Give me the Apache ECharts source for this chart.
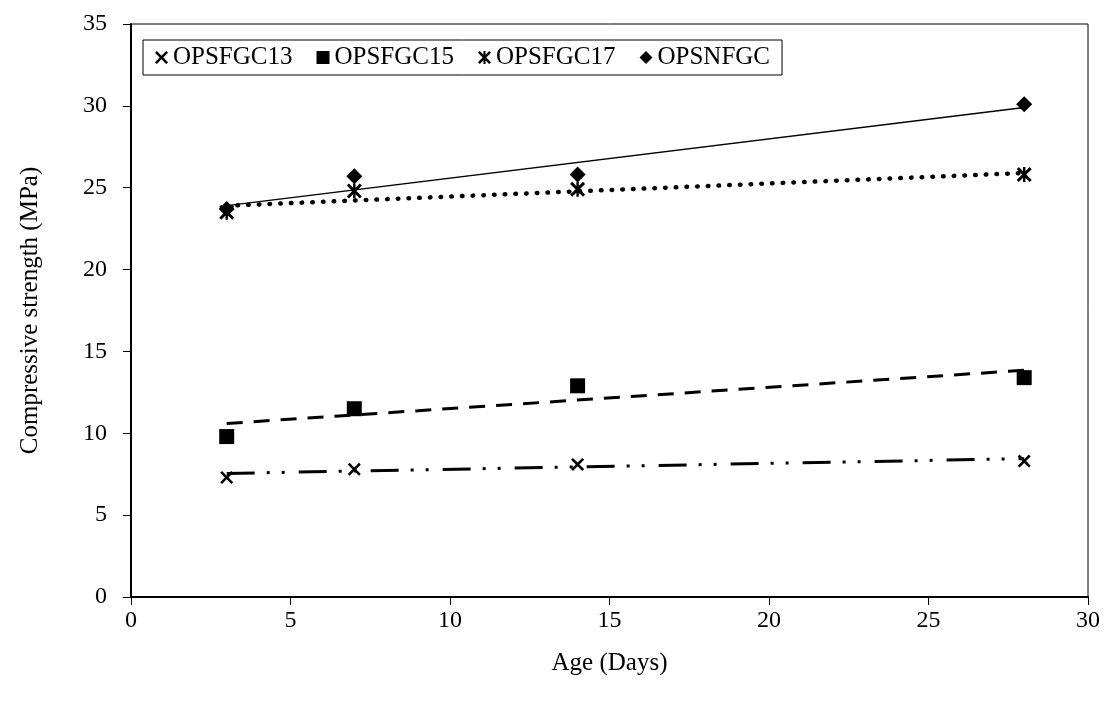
<!DOCTYPE html>
<html>
<head>
<meta charset="utf-8">
<script src="https://cdn.jsdelivr.net/npm/echarts@6/dist/echarts.min.js"></script>
<style>
html, body { margin: 0; padding: 0; background: #fff; }
#main { width: 1114px; height: 705px; }
</style>
</head>
<body>
<div id="main"></div>
<script>
// data
var days = [3, 7, 14, 28];
var names = ['OPSFGC13', 'OPSFGC15', 'OPSFGC17', 'OPSNFGC'];
var fgc13 = [7.3, 7.8, 8.1, 8.3];
var fgc15 = [9.8, 11.5, 12.9, 13.4];
var fgc17 = [23.5, 24.8, 24.9, 25.8];
var nfgc = [23.7, 25.7, 25.8, 30.1];
// trendline ends at day 3 and day 28
var trendDays = [3, 28];
var trend13 = [7.55, 8.45];
var trend15 = [10.6, 13.85];
var trend17 = [23.9, 25.9];
var trendNf = [23.9, 29.9];

var font = "'Liberation Serif', 'Times New Roman', serif";

var xMark = 'path://M0,1.4L1.4,0L5,3.6L8.6,0L10,1.4L6.4,5L10,8.6L8.6,10L5,6.4L1.4,10L0,8.6L3.6,5Z';
var starMark = 'path://M0,1.4L1.4,0L5,3.6L8.6,0L10,1.4L6.4,5L10,8.6L8.6,10L5,6.4L1.4,10L0,8.6L3.6,5Z' +
	'M4.2,0L5.8,0L5.8,10L4.2,10Z';

function pairs(xs, ys) {
	var out = [];
	for (var i = 0; i < xs.length; i++) out.push([xs[i], ys[i]]);
	return out;
}

function points(name, ys, symbol, size) {
	return {
		name: name,
		type: 'scatter',
		data: pairs(days, ys),
		symbol: symbol,
		symbolSize: size,
		itemStyle: { color: '#000', opacity: 1 },
		z: 5
	};
}

function trend(ys, style) {
	return {
		name: 'trend',
		type: 'line',
		data: pairs(trendDays, ys),
		symbol: 'none',
		silent: true,
		lineStyle: style,
		z: 3
	};
}

var chart = echarts.init(document.getElementById('main'));

var option = {
	animation: false,
	backgroundColor: '#fff',
	grid: {
		left: 131, right: 26, top: 24, bottom: 108,
		show: true, borderColor: '#000', borderWidth: 1
	},
	legend: {
		data: names,
		left: 143, top: 40,
		padding: [5, 12, 5, 12],
		borderColor: '#000', borderWidth: 1,
		backgroundColor: '#fff',
		itemGap: 24, itemWidth: 13, itemHeight: 13,
		textStyle: { fontFamily: font, fontSize: 25, color: '#000' }
	},
	xAxis: {
		type: 'value', min: 0, max: 30, interval: 5,
		name: 'Age (Days)', nameLocation: 'middle', nameGap: 54,
		nameTextStyle: { fontFamily: font, fontSize: 25, color: '#000' },
		axisLine: { lineStyle: { color: '#000', width: 2 } },
		axisTick: { length: 8, lineStyle: { color: '#000' } },
		axisLabel: { margin: 12, fontFamily: font, fontSize: 24, color: '#000' },
		splitLine: { show: false }
	},
	yAxis: {
		type: 'value', min: 0, max: 35, interval: 5,
		name: 'Compressive strength (MPa)', nameLocation: 'middle', nameGap: 88,
		nameTextStyle: { fontFamily: font, fontSize: 25, color: '#000' },
		axisLine: { show: true, lineStyle: { color: '#000', width: 2 } },
		axisTick: { show: true, length: 8, lineStyle: { color: '#000' } },
		axisLabel: { margin: 24, fontFamily: font, fontSize: 24, color: '#000' },
		splitLine: { show: false }
	},
	series: [
		points(names[0], fgc13, xMark, 13),
		points(names[1], fgc15, 'rect', 15),
		points(names[2], fgc17, starMark, 15),
		points(names[3], nfgc, 'diamond', 16),
		trend(trend13, { color: '#000', width: 3, type: [28, 12, 3, 12, 3, 14] }),
		trend(trend15, { color: '#000', width: 3, type: [16, 11] }),
		trend(trend17, { color: '#000', width: 4.5, type: [0.6, 10.1], cap: 'round' }),
		trend(trendNf, { color: '#000', width: 1.3, type: 'solid' })
	]
};

chart.setOption(option);
</script>
</body>
</html>
